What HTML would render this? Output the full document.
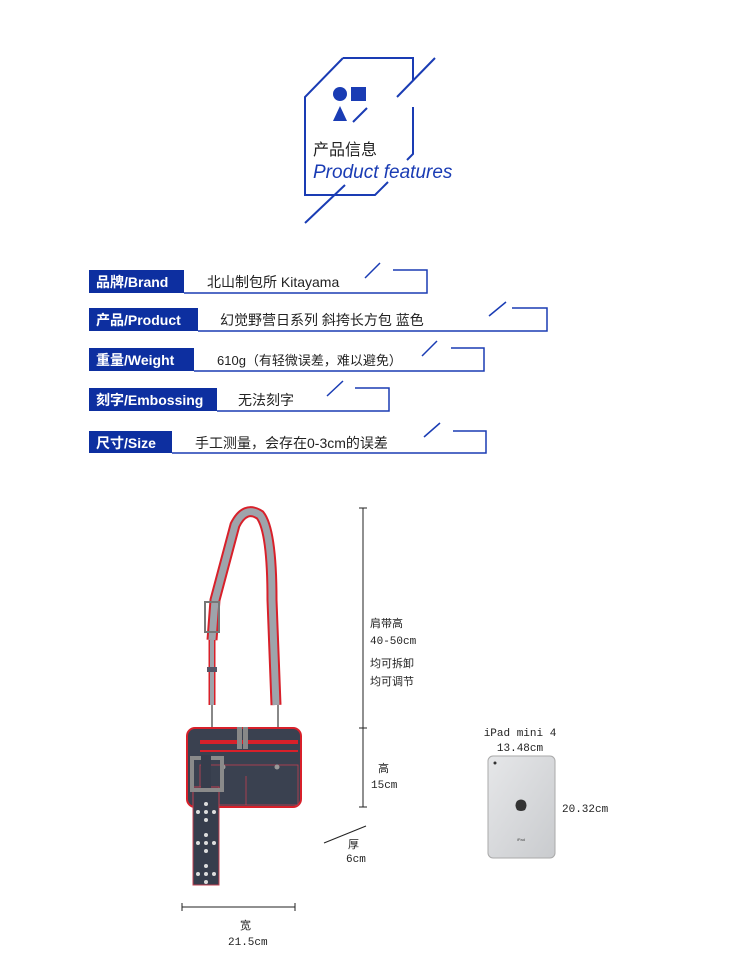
<!DOCTYPE html>
<html><head><meta charset="utf-8"><style>
html,body{margin:0;padding:0;background:#fff;}
svg{display:block;}
.cn{font-family:"Liberation Sans","Noto Sans CJK SC",sans-serif;}
.m{font-family:"Liberation Mono","Noto Sans CJK SC",monospace;font-size:11px;fill:#222;}
</style></head><body>
<svg width="750" height="960" viewBox="0 0 750 960" xmlns="http://www.w3.org/2000/svg">
<g stroke="#1a3cb4" stroke-width="2" fill="none">
<polyline points="343,58 413,58 413,80"/>
<polyline points="343,58 305,97 305,195 375,195 388,182"/>
<polyline points="413,107 413,154 407,160"/>
<line x1="435" y1="58" x2="397" y2="97"/>
<line x1="345" y1="185" x2="305" y2="223"/>
<line x1="353" y1="122" x2="367" y2="108"/>
</g>
<circle cx="340" cy="94" r="7" fill="#1a3cb4"/>
<rect x="351" y="87" width="15" height="14" fill="#1a3cb4"/>
<polygon points="340,106 347,121 333,121" fill="#1a3cb4"/>
<text x="313" y="155" class="cn" font-size="16" fill="#222">产品信息</text>
<text x="313" y="178" font-family="Liberation Sans,sans-serif" font-style="italic" font-size="19" fill="#1a3cb4">Product features</text>

<g class="cn" font-size="14">
<rect x="89" y="270" width="95" height="23" fill="#0d2fa0"/>
<text x="96" y="287" fill="#fff" font-weight="bold">品牌/Brand</text>
<polyline points="393,270 427,270 427,293 184,293" stroke="#1a3cb4" stroke-width="1.5" fill="none"/>
<line x1="365" y1="278" x2="380" y2="263" stroke="#1a3cb4" stroke-width="1.5"/>
<text x="207" y="287" fill="#222">北山制包所 Kitayama</text>

<rect x="89" y="308" width="109" height="23" fill="#0d2fa0"/>
<text x="96" y="325" fill="#fff" font-weight="bold">产品/Product</text>
<polyline points="512,308 547,308 547,331 198,331" stroke="#1a3cb4" stroke-width="1.5" fill="none"/>
<line x1="489" y1="316" x2="506" y2="302" stroke="#1a3cb4" stroke-width="1.5"/>
<text x="220" y="325" fill="#222">幻觉野营日系列  斜挎长方包  蓝色</text>

<rect x="89" y="348" width="105" height="23" fill="#0d2fa0"/>
<text x="96" y="365" fill="#fff" font-weight="bold">重量/Weight</text>
<polyline points="451,348 484,348 484,371 194,371" stroke="#1a3cb4" stroke-width="1.5" fill="none"/>
<line x1="422" y1="356" x2="437" y2="341" stroke="#1a3cb4" stroke-width="1.5"/>
<text x="217" y="365" fill="#222" font-size="13">610g（有轻微误差，难以避免）</text>

<rect x="89" y="388" width="128" height="23" fill="#0d2fa0"/>
<text x="96" y="405" fill="#fff" font-weight="bold">刻字/Embossing</text>
<polyline points="355,388 389,388 389,411 217,411" stroke="#1a3cb4" stroke-width="1.5" fill="none"/>
<line x1="327" y1="396" x2="343" y2="381" stroke="#1a3cb4" stroke-width="1.5"/>
<text x="238" y="405" fill="#222">无法刻字</text>

<rect x="89" y="431" width="83" height="22" fill="#0d2fa0"/>
<text x="96" y="448" fill="#fff" font-weight="bold">尺寸/Size</text>
<polyline points="453,431 486,431 486,453 172,453" stroke="#1a3cb4" stroke-width="1.5" fill="none"/>
<line x1="424" y1="437" x2="440" y2="423" stroke="#1a3cb4" stroke-width="1.5"/>
<text x="195" y="448" fill="#222">手工测量，会存在0-3cm的误差</text>
</g>

<path d="M212,640 L215,600 L235,525 Q245,505 260,515 Q272,530 272,600 L276,705" stroke="#d8202a" stroke-width="11" fill="none"/>
<path d="M212,640 L215,600 L235,525 Q245,505 260,515 Q272,530 272,600 L276,705" stroke="#9ea4ab" stroke-width="7" fill="none"/>
<path d="M212,640 L212,705" stroke="#d8202a" stroke-width="7" fill="none"/>
<path d="M212,640 L212,705" stroke="#9ea4ab" stroke-width="4" fill="none"/>
<rect x="205" y="602" width="14" height="30" fill="none" stroke="#777" stroke-width="2"/>
<rect x="207" y="667" width="10" height="5" fill="#556"/>
<line x1="212" y1="705" x2="212" y2="728" stroke="#888" stroke-width="2"/>
<line x1="278" y1="705" x2="278" y2="728" stroke="#888" stroke-width="2"/>
<rect x="187" y="728" width="114" height="79" rx="8" fill="#3a4150" stroke="#d8202a" stroke-width="2"/>
<rect x="200" y="740" width="98" height="4" fill="#d8202a"/>
<rect x="200" y="750" width="98" height="2" fill="#d8202a"/>
<rect x="200" y="765" width="98" height="40" fill="none" stroke="#c04050" stroke-width="0.8"/>
<line x1="246" y1="776" x2="246" y2="805" stroke="#c04050" stroke-width="0.8"/>
<rect x="237" y="727" width="5" height="22" fill="#888"/>
<rect x="243" y="727" width="5" height="22" fill="#888"/>
<circle cx="223" cy="767" r="2.5" fill="#999"/>
<circle cx="277" cy="767" r="2.5" fill="#999"/>
<rect x="193" y="787" width="26" height="98" fill="#363d4c" stroke="#c04050" stroke-width="1"/>
<rect x="192" y="758" width="30" height="32" fill="none" stroke="#8a8a8a" stroke-width="4"/>
<rect x="201" y="755" width="10" height="33" fill="#363d4c"/>
<g fill="#ddd">
<circle cx="206" cy="804" r="2"/><circle cx="198" cy="812" r="2"/><circle cx="206" cy="812" r="2"/><circle cx="214" cy="812" r="2"/><circle cx="206" cy="820" r="2"/>
<circle cx="206" cy="835" r="2"/><circle cx="198" cy="843" r="2"/><circle cx="206" cy="843" r="2"/><circle cx="214" cy="843" r="2"/><circle cx="206" cy="851" r="2"/>
<circle cx="206" cy="866" r="2"/><circle cx="198" cy="874" r="2"/><circle cx="206" cy="874" r="2"/><circle cx="214" cy="874" r="2"/><circle cx="206" cy="882" r="2"/>
</g>

<g stroke="#222" stroke-width="1">
<line x1="363" y1="508" x2="363" y2="807"/>
<line x1="359" y1="508" x2="367" y2="508"/>
<line x1="359" y1="728" x2="367" y2="728"/>
<line x1="359" y1="807" x2="367" y2="807"/>
<line x1="182" y1="907" x2="295" y2="907"/>
<line x1="182" y1="903" x2="182" y2="911"/>
<line x1="295" y1="903" x2="295" y2="911"/>
<line x1="324" y1="843" x2="366" y2="826"/>
</g>
<text x="370" y="627" class="m">肩带高</text>
<text x="370" y="644" class="m">40-50cm</text>
<text x="370" y="667" class="m">均可拆卸</text>
<text x="370" y="685" class="m">均可调节</text>
<text x="378" y="772" class="m">高</text>
<text x="371" y="788" class="m">15cm</text>
<text x="348" y="848" class="m">厚</text>
<text x="346" y="862" class="m">6cm</text>
<text x="240" y="929" class="m">宽</text>
<text x="228" y="945" class="m">21.5cm</text>

<text x="520" y="736" class="m" text-anchor="middle">iPad mini 4</text>
<text x="520" y="751" class="m" text-anchor="middle">13.48cm</text>
<text x="562" y="812" class="m">20.32cm</text>
<defs><linearGradient id="ip" x1="0" y1="0" x2="1" y2="1"><stop offset="0" stop-color="#e6e7e9"/><stop offset="1" stop-color="#c9cbce"/></linearGradient></defs>
<rect x="488" y="756" width="67" height="102" rx="5" fill="url(#ip)" stroke="#aaa" stroke-width="1"/>
<circle cx="495" cy="763" r="1.5" fill="#333"/>
<path d="M517,801 q4,-3 8,0 q3,4 0,9 q-4,2 -8,0 q-3,-5 0,-9z" fill="#333"/>
<text x="521" y="841" font-size="4" text-anchor="middle" fill="#444" font-family="Liberation Sans,sans-serif">iPad</text>
</svg>
</body></html>
